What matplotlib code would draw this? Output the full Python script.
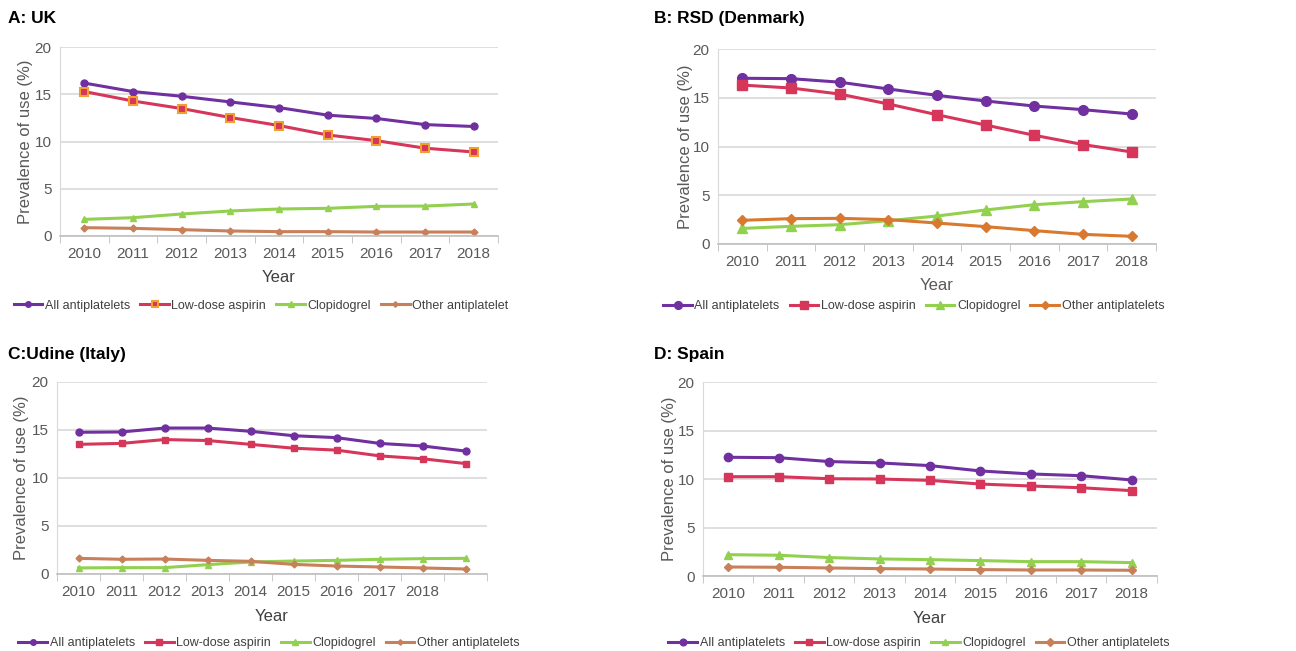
import numpy as np
import matplotlib.pyplot as plt

plt.rcParams['font.family'] = ['Liberation Sans', 'DejaVu Sans']

years = ['2010', '2011', '2012', '2013', '2014', '2015', '2016', '2017', '2018']
years_c = years + ['']

# A: UK
uk_all = [16.2, 15.3, 14.8, 14.2, 13.6, 12.8, 12.45, 11.8, 11.6]
uk_asp = [15.3, 14.3, 13.5, 12.55, 11.7, 10.7, 10.1, 9.3, 8.9]
uk_clo = [1.76, 1.94, 2.33, 2.65, 2.86, 2.93, 3.14, 3.17, 3.39]
uk_oth = [0.88, 0.81, 0.67, 0.53, 0.46, 0.46, 0.42, 0.42, 0.42]

# B: Denmark
dk_all = [17.0, 16.96, 16.6, 15.9, 15.25, 14.67, 14.15, 13.78, 13.33]
dk_asp = [16.3, 16.0, 15.38, 14.36, 13.26, 12.2, 11.15, 10.2, 9.44]
dk_clo = [1.6, 1.81, 1.98, 2.39, 2.87, 3.49, 4.03, 4.34, 4.62]
dk_oth = [2.43, 2.6, 2.63, 2.5, 2.15, 1.78, 1.37, 0.99, 0.79]

# C: Udine (10 points, last tick unlabeled)
it_all = [14.76, 14.79, 15.2, 15.2, 14.86, 14.4, 14.2, 13.6, 13.33, 12.8]
it_asp = [13.5, 13.6, 14.0, 13.9, 13.5, 13.1, 12.9, 12.3, 12.0, 11.5]
it_clo = [0.63, 0.66, 0.66, 0.97, 1.25, 1.35, 1.42, 1.53, 1.6, 1.63]
it_oth = [1.63, 1.53, 1.56, 1.42, 1.32, 1.0, 0.83, 0.73, 0.63, 0.52]

# D: Spain
es_all = [12.24, 12.2, 11.8, 11.66, 11.38, 10.83, 10.52, 10.34, 9.9]
es_asp = [10.24, 10.24, 10.03, 10.0, 9.86, 9.48, 9.28, 9.1, 8.8]
es_clo = [2.2, 2.14, 1.9, 1.76, 1.69, 1.59, 1.48, 1.48, 1.38]
es_oth = [0.93, 0.9, 0.83, 0.76, 0.72, 0.66, 0.62, 0.62, 0.59]

purple = '#7030A0'
red = '#D6365A'
green = '#92D050'
brown = '#C8805A'
orange = '#D9782F'
grey = '#595959'

fig = plt.figure(figsize=(12.96, 6.51), dpi=100)


def style_axes(ax, labels):
    n = len(labels)
    ax.set_xlim(-0.5, n - 0.5)
    ax.set_ylim(0, 20)
    ax.set_yticks([0, 5, 10, 15, 20])
    ax.set_xticks(range(n))
    ax.set_xticklabels(labels)
    ax.set_xticks(np.arange(-0.5, n, 1.0), minor=True)
    ax.tick_params(axis='x', which='major', length=0, pad=8, labelsize=11, colors=grey)
    ax.tick_params(axis='x', which='minor', length=5, color='#BFBFBF')
    ax.tick_params(axis='y', length=0, labelsize=11, colors=grey, pad=6)
    ax.grid(axis='y', color='#D9D9D9', linewidth=1.2)
    ax.set_axisbelow(True)
    for s in ['top', 'right']:
        ax.spines[s].set_visible(False)
    ax.spines['left'].set_color('#D9D9D9')
    ax.spines['bottom'].set_color('#BFBFBF')
    ax.spines['bottom'].set_linewidth(1.2)


def panel(rect, title, title_xy, labels, series, ylab_x, xlab_y, leg_xy, ms, oth_label, year_color, oth_color):
    ax = fig.add_axes(rect)
    style_axes(ax, labels)
    x = np.arange(len(series[0]))
    ax.plot(x, series[0], color=purple, lw=2.2, marker='o', ms=ms, label='All antiplatelets')
    if title.startswith('A'):
        ax.plot(x, series[1], color=red, lw=2.2, marker='s', ms=ms + 1, mfc=red,
                mec='#F0A030', mew=1.5, label='Low-dose aspirin')
    else:
        ax.plot(x, series[1], color=red, lw=2.2, marker='s', ms=ms, label='Low-dose aspirin')
    ax.plot(x, series[2], color=green, lw=2.2, marker='^', ms=ms, label='Clopidogrel')
    ax.plot(x, series[3], color=oth_color, lw=2.2, marker='D', ms=ms - 1.5, label=oth_label)
    ax.set_ylabel('Prevalence of use (%)', fontsize=12, color=grey)
    ax.yaxis.set_label_coords(ylab_x, 0.5)
    ax.set_xlabel('Year', fontsize=12, color=year_color)
    ax.xaxis.set_label_coords(0.5, xlab_y)
    ax.legend(loc='center', bbox_to_anchor=leg_xy, ncol=4, frameon=False, fontsize=9,
              handlelength=2.3, handletextpad=0.2, columnspacing=0.8, markerscale=0.8,
              labelcolor='#404040')
    fig.text(title_xy[0], title_xy[1], title, fontsize=12.5, fontweight='bold', va='center', ha='left')
    return ax


panel([0.0463, 0.6375, 0.338, 0.290], 'A: UK', (0.006, 0.972), years,
      [uk_all, uk_asp, uk_clo, uk_oth], -0.062, -0.18, (0.459, -0.37), 5,
      'Other antiplatelet', '#404040', brown)
panel([0.554, 0.6252, 0.338, 0.2995], 'B: RSD (Denmark)', (0.505, 0.972), years,
      [dk_all, dk_asp, dk_clo, dk_oth], -0.057, -0.175, (0.447, -0.318), 7,
      'Other antiplatelets', grey, orange)
panel([0.044, 0.1183, 0.3318, 0.295], 'C:Udine (Italy)', (0.006, 0.455), years_c,
      [it_all, it_asp, it_clo, it_oth], -0.065, -0.18, (0.493, -0.36), 5,
      'Other antiplatelets', '#404040', brown)
panel([0.5424, 0.1152, 0.3503, 0.298], 'D: Spain', (0.505, 0.455), years,
      [es_all, es_asp, es_clo, es_oth], -0.057, -0.18, (0.476, -0.345), 6,
      'Other antiplatelets', '#404040', brown)

fig.savefig('out.png', dpi=100, facecolor='white')
